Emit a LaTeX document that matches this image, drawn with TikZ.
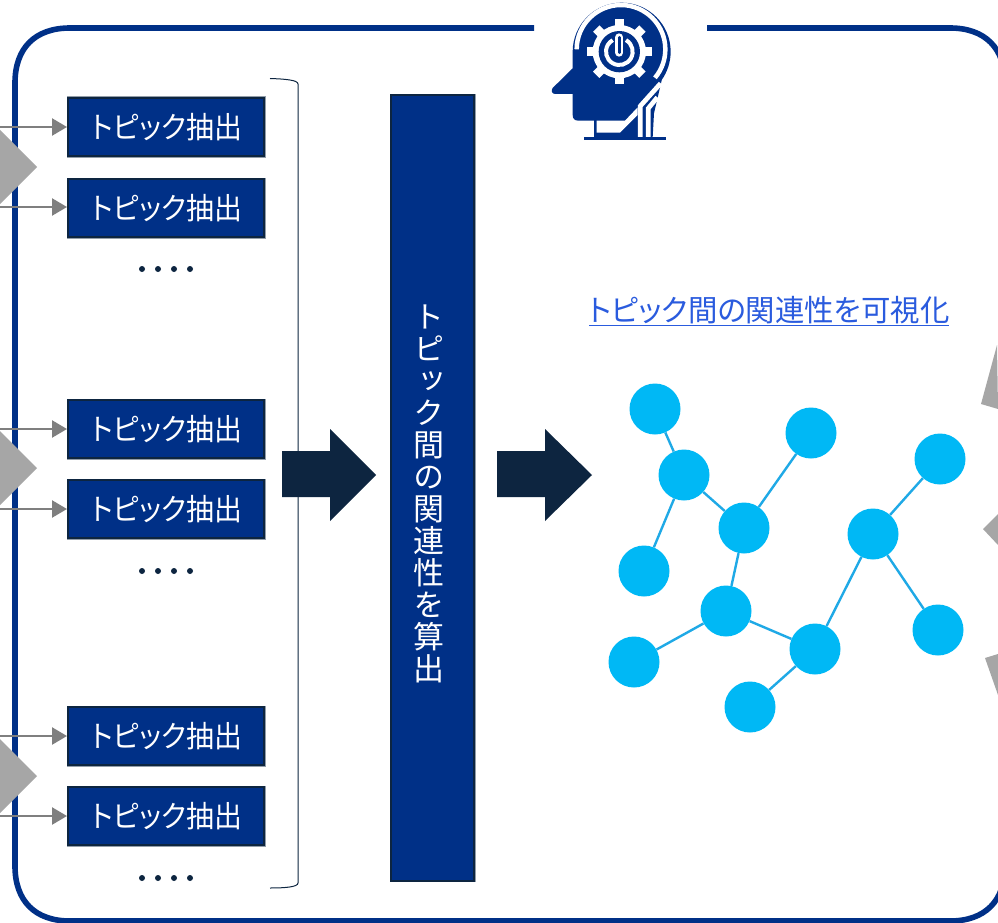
\documentclass[tikz,border=0pt]{standalone}
\usepackage{fontspec}
\usetikzlibrary{arrows.meta}
\newfontfamily\jpfont[RawFeature=+palt,FakeStretch=0.98]{Noto Sans CJK JP}
\newfontfamily\jpbox[RawFeature=+palt,FakeStretch=0.93]{Noto Sans CJK JP}
\newfontfamily\jpvert[RawFeature=+vert]{Noto Sans CJK JP}
\definecolor{navy}{HTML}{003087}
\definecolor{darknavy}{HTML}{0D2540}
\definecolor{skyc}{HTML}{00B8F5}
\definecolor{edgec}{HTML}{1FA9E6}
\definecolor{grayshape}{HTML}{A6A6A6}
\definecolor{grayarrow}{HTML}{7F7F7F}
\definecolor{linkc}{HTML}{2A5BDE}
\tikzset{
  topicbox/.style={rectangle,minimum width=196pt,minimum height=58pt,inner sep=0pt,fill=navy,draw=darknavy,line width=2pt,
    preaction={draw=darknavy!45,line width=3pt},text=white,font=\jpbox\fontsize{30}{30}\selectfont},
  feed/.style={draw=grayarrow,line width=2.4pt,-{Triangle[length=15pt,width=17pt,fill=grayarrow]}},
  graphnode/.style={circle,fill=skyc,minimum size=51pt,inner sep=0pt},
  graphedge/.style={draw=edgec,line width=2.4pt},
  dot/.style={circle,fill=darknavy,minimum size=6pt,inner sep=0pt},
  blockarrow/.style={fill=darknavy},
  grayblock/.style={fill=grayshape},
}
\begin{document}
\begin{tikzpicture}[x=1pt,y=-1pt]
\useasboundingbox (0,0) rectangle (998,923);
\clip (0,0) rectangle (998,923);
\fill[white] (0,0) rectangle (998,923);
% frame
\draw[navy,line width=5.6pt] (534,28) -- (70,28) .. controls (35,28) and (15,48) .. (15,83) -- (15,866) .. controls (15,901) and (35,921) .. (70,921) -- (950,921) .. controls (985,921) and (1005,901) .. (1005,866) -- (1005,83) .. controls (1005,48) and (985,28) .. (950,28) -- (707,28);
% left gray
\foreach \yc in {167,468,776}{
  \fill[grayblock] (-10,\yc-47) -- (37,\yc) -- (-10,\yc+47) -- cycle;
}
% right gray
\fill[grayblock] (997,345) -- (981,404) -- (998,409) -- cycle;
\fill[grayblock] (983,529) -- (998,514) -- (998,545) -- cycle;
\fill[grayblock] (985,658) -- (998,654) -- (998,695) -- cycle;
% topic boxes
\node[topicbox] (t1) at (166,127) {\hspace{2pt}トピック抽出};
\node[topicbox] (t2) at (166,208) {\hspace{2pt}トピック抽出};
\node[topicbox] (t3) at (166,429) {\hspace{2pt}トピック抽出};
\node[topicbox] (t4) at (166,509) {\hspace{2pt}トピック抽出};
\node[topicbox] (t5) at (166,736) {\hspace{2pt}トピック抽出};
\node[topicbox] (t6) at (166,816) {\hspace{2pt}トピック抽出};
\foreach \n/\yc in {1/127,2/207,3/429,4/509,5/736,6/816}{
  \coordinate (s\n) at (0,\yc);
  \draw[feed] (s\n) -- (t\n.west |- s\n);
}
% dots
\foreach \yc in {269,571,878}{
  \foreach \xc in {142,158,174,190}{
    \node[dot] at (\xc,\yc) {};
  }
}
% bracket
\draw[darknavy,line width=1pt] (270,78.5) .. controls (285,79) and (298,80) .. (298,84) -- (298,883) .. controls (298,887) and (285,888) .. (270,888);
% block arrows
\fill[blockarrow] (282,451) -- (330,451) -- (330,429) -- (376,475) -- (330,521) -- (330,497) -- (282,497) -- cycle;
\fill[blockarrow] (497,451) -- (545,451) -- (545,429) -- (592,475) -- (545,521) -- (545,497) -- (497,497) -- cycle;
% central bar
\node[rectangle,minimum width=83pt,minimum height=785pt,inner sep=0pt,fill=navy,draw=darknavy,line width=2pt,preaction={draw=darknavy!45,line width=3pt}] (bar) at (432.5,488) {};
\node[text=white,align=center,inner sep=0pt,font=\jpvert\fontsize{31}{32}\selectfont] (bartext) at (429,494) {ト\\ピ\\ッ\\ク\\間\\の\\関\\連\\性\\を\\算\\出};
% link title
\node[text=linkc,inner sep=0pt,font=\jpfont\fontsize{30}{30}\selectfont] (title) at (769,310) {トピック間の関連性を可視化};
\draw[linkc,line width=1.4pt] (589,325.5) -- (949,325.5);
% network
\node[graphnode] (n1) at (655,409) {};
\node[graphnode] (n2) at (811,433) {};
\node[graphnode] (n3) at (684,475) {};
\node[graphnode] (n4) at (940,459) {};
\node[graphnode] (n5) at (744,528) {};
\node[graphnode] (n6) at (873,534) {};
\node[graphnode] (n7) at (644,571) {};
\node[graphnode] (n8) at (726,611) {};
\node[graphnode] (n9) at (815,649) {};
\node[graphnode] (n10) at (938,630) {};
\node[graphnode] (n11) at (634,662) {};
\node[graphnode] (n12) at (750,707) {};
\foreach \a/\b in {n1/n3,n3/n5,n3/n7,n2/n5,n5/n8,n8/n11,n8/n9,n9/n12,n9/n6,n6/n4,n6/n10}{
  \draw[graphedge] (\a) -- (\b);
}
% icon
\begin{scope}[shift={(530,0)},x=0.33333pt,y=-0.33333pt]
  \fill[navy] (128,155) arc[start angle=180,end angle=395,radius=147] -- (372,340) -- (368,412) -- (192,412) -- (192,362) -- (145,362) .. controls (134,362) and (128,356) .. (128,345) -- (128,282) -- (76,282) .. controls (66,282) and (62,272) .. (68,264) -- (128,205) -- cycle;
  \fill[white] (200,362) -- (285,362) -- (323,322) -- (323,345) -- (270,398) -- (200,398) -- cycle;
  \draw[white,line width=4.7pt] (331,412) -- (331,318) -- (392,250);
  \draw[white,line width=4.7pt] (355,412) -- (355,325) -- (382,292);
  \draw[white,line width=4.5pt] (140,148) arc[start angle=180,end angle=400,radius=133];
  \draw[navy,line width=2.6pt] (163,415) -- (407,415);
  % gear
  \fill[white] (268,155) circle[radius=80];
  \foreach \ang in {0,45,...,315}{
    \draw[white,line width=9pt] (268,155) ++(\ang:70) -- ++(\ang:28);
  }
  \fill[navy] (268,155) circle[radius=62];
  % power symbol
  \draw[white,line width=4pt] (268,155) ++(-60:40) arc[start angle=-60,end angle=240,radius=40];
  \draw[navy,line width=9.5pt] (268,105) -- (268,150);
  \draw[white,line width=8pt,line cap=round] (268,112) -- (268,158);
  \draw[navy,line width=2.6pt,line cap=round] (268,112) -- (268,158);
\end{scope}
\end{tikzpicture}
\end{document}
